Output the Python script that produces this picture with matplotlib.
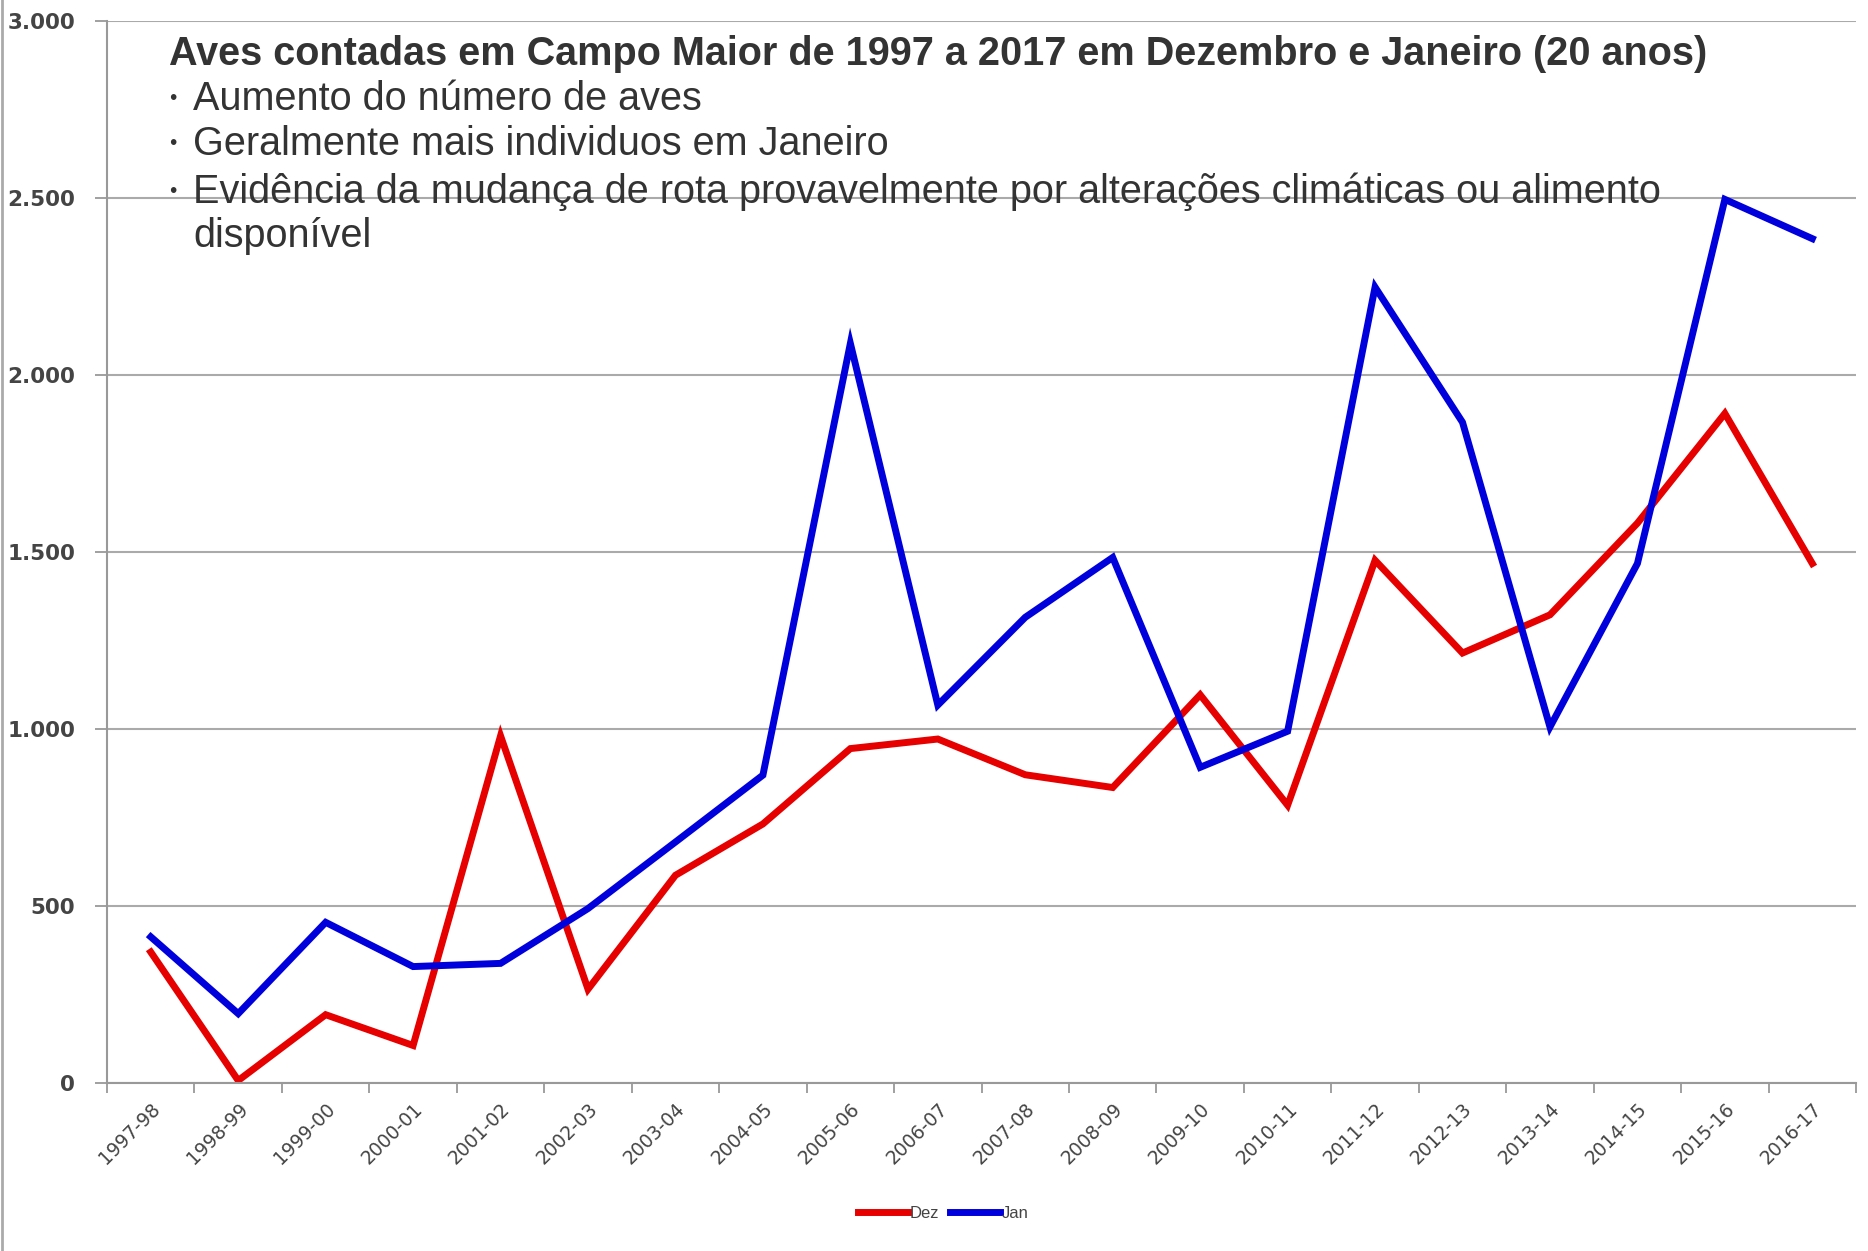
import matplotlib.pyplot as plt
from matplotlib.ticker import FuncFormatter, MultipleLocator
from matplotlib.lines import Line2D
import numpy as np

seasons = ['1997-98', '1998-99', '1999-00', '2000-01', '2001-02', '2002-03',
           '2003-04', '2004-05', '2005-06', '2006-07', '2007-08', '2008-09',
           '2009-10', '2010-11', '2011-12', '2012-13', '2013-14', '2014-15',
           '2015-16', '2016-17']
dez = [370, 7, 193, 106, 981, 265, 587, 732, 945, 972,
       871, 835, 1097, 785, 1477, 1215, 1323, 1582, 1892, 1468]
jan = [413, 196, 454, 329, 338, 493, 681, 870, 2090, 1068,
       1316, 1485, 892, 994, 2249, 1867, 1006, 1468, 2497, 2386]

title = 'Aves contadas em Campo Maior de 1997 a 2017 em Dezembro e Janeiro (20 anos)'
bullets = ['Aumento do número de aves',
           'Geralmente mais individuos em Janeiro',
           'Evidência da mudança de rota provavelmente por alterações climáticas ou alimento',
           'disponível']

plt.rcParams['font.family'] = ['Liberation Sans', 'DejaVu Sans']

fig = plt.figure(figsize=(18.68, 12.51), dpi=100)
ax = fig.add_axes([0.0573, 0.1343, 0.9363, 0.8486])

x = np.arange(len(seasons))
ax.plot(x, dez, color='#e60000', lw=5, label='Dez', solid_joinstyle='miter')
ax.plot(x, jan, color='#0000dd', lw=5, label='Jan', solid_joinstyle='miter')

ax.set_xlim(-0.5, len(seasons) - 0.5)
ax.set_ylim(0, 3000)
ax.yaxis.set_major_locator(MultipleLocator(500))
ax.yaxis.set_major_formatter(FuncFormatter(lambda v, p: f'{int(v):,}'.replace(',', '.')))
ax.grid(axis='y', color='#aaaaaa', lw=1.5)
ax.set_axisbelow(True)

# categories centred between tick marks
ax.set_xticks(x)
ax.set_xticklabels(seasons, rotation=45, ha='right', va='top', rotation_mode='anchor',
                   fontsize=13.5, color='#444444', family='DejaVu Sans')
ax.set_xticks(np.arange(len(seasons) + 1) - 0.5, minor=True)
ax.tick_params(axis='x', which='major', length=0, pad=12)
ax.tick_params(axis='x', which='minor', length=7, width=1.3, color='#999999')
ax.tick_params(axis='y', length=9, width=1.3, color='#999999', labelsize=15.5,
               labelcolor='#444444', pad=14)
for lab in ax.get_yticklabels():
    lab.set_family('DejaVu Sans')
    lab.set_fontweight('bold')

for s in ['top', 'right']:
    ax.spines[s].set_visible(False)
for s in ['left', 'bottom']:
    ax.spines[s].set_color('#999999')
    ax.spines[s].set_linewidth(1.5)

# text block in the upper left
fig.text(0.0905, 0.957, title, fontsize=28.5, fontweight='bold', color='#333333', va='center')
rows = [0.921, 0.885, 0.847, 0.811]
for i, (y, t) in enumerate(zip(rows, bullets)):
    if i < 3:
        fig.text(0.0925, y, '•', fontsize=15, color='#333333', va='center', ha='center')
    fig.text(0.1033, y, t, fontsize=28.5, color='#333333', va='center')

fig.legend(loc='lower center', bbox_to_anchor=(0.505, 0.012), ncol=2, frameon=False,
           fontsize=12, handlelength=3.0, handletextpad=0.1, columnspacing=0.7,
           labelcolor='#444444')

fig.add_artist(Line2D([0.001, 0.001], [0, 1], color='#aaaaaa', lw=2, transform=fig.transFigure))

fig.savefig('out.png', dpi=100, facecolor='white')
